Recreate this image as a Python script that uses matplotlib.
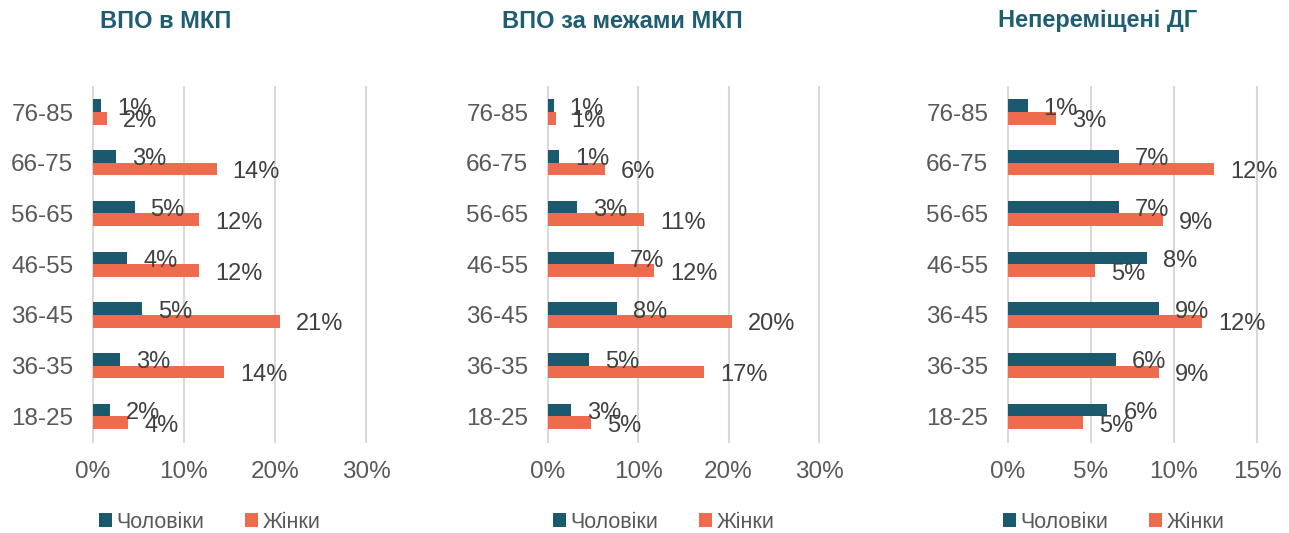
import matplotlib
matplotlib.use("Agg")
import matplotlib.pyplot as plt
import numpy as np
from matplotlib.ticker import FuncFormatter

plt.rcParams['font.family'] = ['Liberation Sans', 'DejaVu Sans']

# categories, bottom to top
ages = ["18-25", "36-35", "36-45", "46-55", "56-65", "66-75", "76-85"]

titles = ["ВПО в МКП", "ВПО за межами МКП", "Непереміщені ДГ"]

# values in %, same order as ages
men_idp_in = [1.9, 3.0, 5.4, 3.8, 4.6, 2.6, 0.9]
women_idp_in = [3.9, 14.4, 20.6, 11.7, 11.7, 13.6, 1.6]

men_idp_out = [2.6, 4.6, 7.7, 7.3, 3.2, 1.3, 0.66]
women_idp_out = [4.8, 17.3, 20.4, 11.8, 10.65, 6.3, 0.88]

men_host = [6.0, 6.5, 9.1, 8.4, 6.7, 6.7, 1.2]
women_host = [4.55, 9.1, 11.7, 5.25, 9.35, 12.4, 2.9]

xmax = [30, 30, 15]
xstep = [10, 10, 5]

MEN = "#1b5a6e"
WOMEN = "#ee6b4d"
TITLE_C = "#1f5d72"

W, H = 1289, 533
fig = plt.figure(figsize=(W / 100, H / 100), dpi=100)

lefts = [92.7, 547.7, 1007.7]
rights = [366, 819, 1257]
title_x = [166, 622, 1098]
legend_x = [210, 664, 1114]
bottom, top = 441.7, 86.7

series = [(men_idp_in, women_idp_in), (men_idp_out, women_idp_out), (men_host, women_host)]

y = np.arange(len(ages))
bh = 0.25

for i, (men, women) in enumerate(series):
    ax = fig.add_axes([lefts[i] / W, 1 - bottom / H, (rights[i] - lefts[i]) / W, (bottom - top) / H])
    ax.barh(y + bh / 2, men, height=bh, color=MEN, label="Чоловіки", zorder=3)
    ax.barh(y - bh / 2, women, height=bh, color=WOMEN, label="Жінки", zorder=3)

    for yy, v in zip(y + bh / 2, men):
        ax.annotate(f"{round(v)}%", (v, yy), xytext=(16, -3), textcoords='offset pixels',
                    ha='left', va='center', fontsize=17, color='#404040', zorder=4)
    for yy, v in zip(y - bh / 2, women):
        ax.annotate(f"{round(v)}%", (v, yy), xytext=(16, -3), textcoords='offset pixels',
                    ha='left', va='center', fontsize=17, color='#404040', zorder=4)

    ax.set_xlim(0, xmax[i])
    ax.set_ylim(-0.5, len(ages) - 0.5)
    ax.set_xticks(np.arange(0, xmax[i] + 0.1, xstep[i]))
    ax.xaxis.set_major_formatter(FuncFormatter(lambda v, p: f"{v:.0f}%"))
    ax.set_yticks(y)
    ax.set_yticklabels(ages)
    ax.tick_params(axis='both', length=0, labelsize=17.5, labelcolor='#595959')
    ax.tick_params(axis='y', pad=14)
    ax.tick_params(axis='x', pad=14)
    ax.grid(axis='x', color='#d9d9d9', linewidth=1.5, zorder=0)
    for s in ax.spines.values():
        s.set_visible(False)
    for gl in ax.get_xgridlines():
        gl.set_clip_on(False)

    fig.text(title_x[i] / W, 1 - 21 / H, titles[i], ha='center', va='center',
             fontsize=17, fontweight='bold', color=TITLE_C)

    ax.legend(loc='center', bbox_to_anchor=(legend_x[i] / W, 1 - 522 / H),
              bbox_transform=fig.transFigure, ncol=2, frameon=False, fontsize=15.5,
              handlelength=0.6, handleheight=0.6, handletextpad=0.2,
              columnspacing=1.9, labelcolor='#595959')

fig.savefig("out.png", dpi=100)
